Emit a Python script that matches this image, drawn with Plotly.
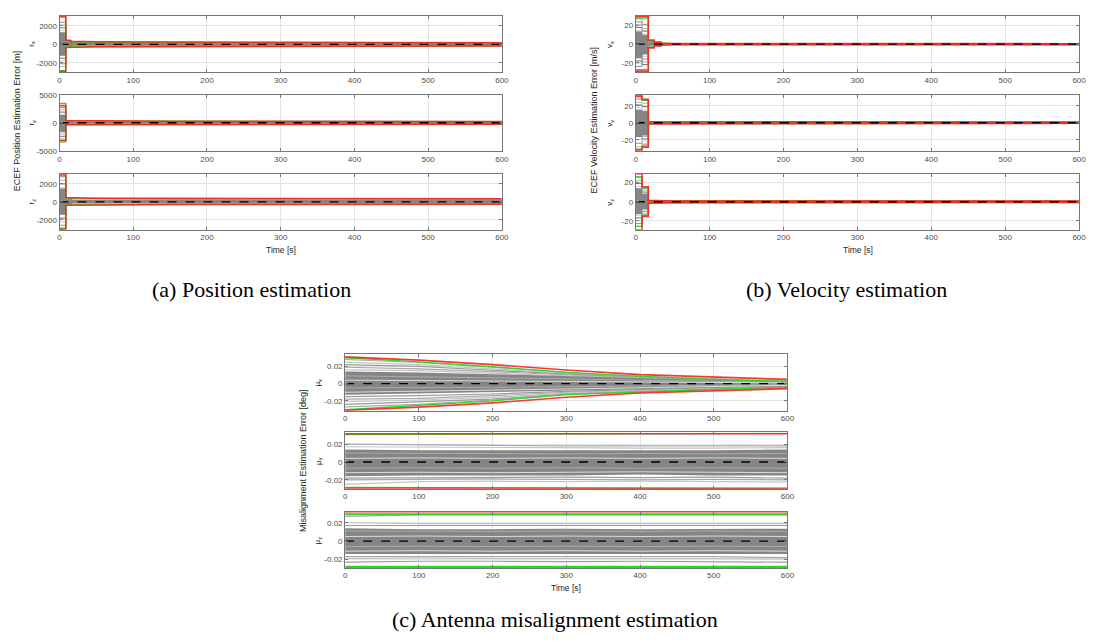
import plotly.graph_objects as go

W, H = 1093, 642

# ---------------- data ----------------
X_TICKS = [0, 100, 200, 300, 400, 500, 600]
T_ENDS = [0, 600]
MEAN_ERR = [0, 0]

# ---- (a) position ----
POS_BOUND_T = [0, 8.5, 8.5, 15, 15, 50, 150, 300, 450, 600]
RX_RED_UP = [3050, 3050, 450, 450, 330, 290, 260, 230, 200, 180]
RX_RED_LO = [-2950, -2950, -330, -330, -280, -260, -240, -220, -200, -180]
RX_GRN_UP = [2950, 2950, 350, 350, 280, 250, 220, 200, 180, 160]
RX_GRN_LO = [-2850, -2850, -280, -280, -240, -220, -200, -190, -180, -160]
RY_RED_UP = [3050, 3050, 400, 400, 330, 300, 280, 260, 240, 230]
RY_RED_LO = [-3100, -3100, -350, -350, -300, -280, -260, -250, -240, -230]
RY_GRN_UP = [3450, 3450, 330, 330, 280, 260, 240, 220, 210, 200]
RY_GRN_LO = [-3400, -3400, -300, -300, -260, -240, -220, -210, -200, -200]
RZ_RED_UP = [3000, 3000, 480, 480, 420, 400, 390, 380, 370, 360]
RZ_RED_LO = [-3050, -3050, -370, -370, -330, -310, -290, -280, -270, -260]
RZ_GRN_UP = [3150, 3150, 420, 420, 370, 350, 340, 330, 320, 310]
RZ_GRN_LO = [-2950, -2950, -320, -320, -290, -270, -250, -240, -230, -220]

POS_SEG_T = [0, 8.5, 17, 600]
RX_CORE_UP = [1300, 200, 120]
RX_CORE_LO = [-1200, -200, -110]
RY_CORE_UP = [1400, 180, 110]
RY_CORE_LO = [-1600, -180, -110]
RZ_CORE_UP = [1500, 250, 150]
RZ_CORE_LO = [-1400, -230, -120]
RX_RUN_A = [2400, 2100, 1800, 1500, 1250, 1000, 700, 450, 200, -100, -350, -600, -900, -1200, -1500, -1800, -2100, -2400]
RX_RUN_B = [380, 300, 220, 160, 100, 50, 0, -40, -90, -140, -190, -240, -290, -330, 260, -60, 120, -200]
RX_RUN_C = [150, -120, 90, -60, 110, -140, 40, -30, 70, -90, 20, -50, 130, -110, 60, -20, 100, -70]
RY_RUN_A = [2700, 2300, 1900, 1500, 1100, 800, 500, 200, -100, -400, -800, -1200, -1600, -2000, -2400, -2800, -3200, 1300]
RY_RUN_B = [300, 240, 180, 120, 60, 0, -60, -120, -180, -240, -300, 150, -90, 30, 210, -210, 90, -30]
RY_RUN_C = [140, -110, 80, -70, 120, -130, 30, -40, 60, -80, 10, -60, 100, -120, 50, -30, 90, -50]
RZ_RUN_A = [2800, 2400, 2000, 1600, 1300, 1000, 700, 400, 100, -200, -500, -800, -1100, -1400, -1800, -2200, -2600, -2900]
RZ_RUN_B = [420, 340, 260, 180, 100, 20, -60, -140, -220, -300, -360, 300, -100, 60, 220, -260, 140, -20]
RZ_RUN_C = [200, -150, 120, -90, 160, -180, 60, -40, 90, -110, 30, -70, 170, -130, 80, -20, 140, -60]

# ---- (b) velocity ----
VEL_BOUND_T = [0, 8.5, 8.5, 17, 17, 25, 25, 34, 34, 50, 600]
VX_RED_UP = [29.5, 29.5, 29.5, 29.5, 4.5, 4.5, 2.2, 2.2, 1.2, 0.7, 0.5]
VX_RED_LO = [-29, -29, -29, -29, -4, -4, -2, -2, -1.1, -0.7, -0.5]
VX_GRN_UP = [28, 28, 28, 28, 3.5, 3.5, 1.8, 1.8, 1.0, 0.6, 0.4]
VX_GRN_LO = [-27.5, -27.5, -27.5, -27.5, -3.5, -3.5, -1.8, -1.8, -1.0, -0.6, -0.4]
VY_RED_UP = [31, 31, 27.5, 27.5, 1.2, 1.2, 1.0, 1.0, 0.9, 0.8, 0.6]
VY_RED_LO = [-32, -32, -28.5, -28.5, -1.2, -1.2, -1.0, -1.0, -0.9, -0.8, -0.6]
VY_GRN_UP = [32.5, 32.5, 26.5, 26.5, 1.0, 1.0, 0.9, 0.9, 0.8, 0.7, 0.5]
VY_GRN_LO = [-31, -31, -27, -27, -1.0, -1.0, -0.9, -0.9, -0.8, -0.7, -0.5]
VZ_RED_UP = [29.4, 29.4, 15.7, 15.7, 1.5, 1.5, 1.2, 1.2, 1.0, 0.8, 0.6]
VZ_RED_LO = [-29.7, -29.7, -15.4, -15.4, -1.5, -1.5, -1.2, -1.2, -1.0, -0.8, -0.6]
VZ_GRN_UP = [26, 26, 14.5, 14.5, 1.2, 1.2, 1.0, 1.0, 0.9, 0.7, 0.5]
VZ_GRN_LO = [-26, -26, -14, -14, -1.2, -1.2, -1.0, -1.0, -0.9, -0.7, -0.5]

VX_SEG_T = [0, 8.5, 17, 25, 34, 600]
VX_CORE_UP = [14, 10, 1.5, 0.8, 0.2]
VX_CORE_LO = [-15, -11, -1.5, -0.8, -0.2]
VX_RUN_A = [24, 21, 18, 15, 12, 9, 6, 3, 0, -3, -6, -9, -12, -15, -18, -21, -24, 27]
VX_RUN_B = [21, 17, 14, 11, 8, 5, 2, -1, -4, -7, -10, -13, -16, -19, -22, 9, -3, 15]
VX_RUN_C = [3.8, 3.0, 2.2, 1.5, 0.8, 0.2, -0.4, -1.0, -1.6, -2.2, -2.8, -3.4, 1.2, -0.6, 2.6, -2.0, 0.5, -1.3]
VX_RUN_D = [1.8, 1.4, 1.0, 0.6, 0.3, 0.0, -0.3, -0.6, -0.9, -1.2, -1.5, -1.8, 0.5, -0.2, 1.2, -1.0, 0.2, -0.5]
VX_RUN_E = [0.4, 0.3, 0.2, 0.1, 0.05, 0.0, -0.05, -0.1, -0.2, -0.3, -0.35, -0.4, 0.15, -0.1, 0.3, -0.25, 0.05, -0.15]
VYZ_SEG_T = [0, 8.5, 17, 600]
VY_CORE_UP = [15, 14, 0.5]
VY_CORE_LO = [-16, -15, -0.5]
VZ_CORE_UP = [14, 8, 0.6]
VZ_CORE_LO = [-13, -8, -0.6]
VY_RUN_A = [28, 24, 21, 18, 15, 12, 9, 6, 3, 0, -3, -6, -9, -12, -16, -20, -24, -28]
VY_RUN_B = [27, 23, 19, 15, 11, 8, 5, 2, -1, -4, -7, -10, -13, -16, -19, -22, -25, 12]
VY_RUN_C = [0.9, 0.7, 0.5, 0.3, 0.1, -0.1, -0.3, -0.5, -0.7, -0.9, 0.4, -0.4, 0.6, -0.6, 0.2, -0.2, 0.8, -0.8]
VZ_RUN_A = [26, 22, 19, 16, 13, 10, 7, 4, 1, -2, -5, -8, -11, -14, -17, -20, -23, -26]
VZ_RUN_B = [14, 12, 10, 8, 6, 4, 2, 0, -2, -4, -6, -8, -10, -12, -14, 5, -3, 9]
VZ_RUN_C = [1.2, 0.9, 0.6, 0.3, 0.0, -0.3, -0.6, -0.9, -1.2, 0.5, -0.5, 0.8, -0.8, 0.2, -0.2, 1.0, -1.0, 0.4]

# ---- (c) misalignment ----
MIS_T = [0, 100, 200, 300, 400, 500, 600]
MUX_RED_UP = [0.031, 0.0272, 0.0220, 0.0158, 0.0105, 0.0074, 0.0049]
MUX_RED_LO = [-0.031, -0.0272, -0.0223, -0.0158, -0.0108, -0.0080, -0.0058]
MUX_GRN_UP = [0.030, 0.0253, 0.0196, 0.0130, 0.0085, 0.0050, 0.0025]
MUX_GRN_LO = [-0.0303, -0.0253, -0.0200, -0.0128, -0.0094, -0.0068, -0.0042]
MUX_CORE_UP = [0.014, 0.013, 0.011, 0.0085, 0.0065, 0.0042, 0.0025]
MUX_CORE_LO = [-0.013, -0.012, -0.010, -0.0085, -0.0065, -0.0048, -0.003]
MUX_RUNS = [
    [0.028, 0.0245, 0.019, 0.013, 0.0085, 0.0055, 0.003],
    [0.025, 0.022, 0.017, 0.012, 0.0078, 0.005, 0.0026],
    [0.022, 0.020, 0.0155, 0.011, 0.007, 0.0045, 0.0022],
    [0.019, 0.017, 0.014, 0.010, 0.0065, 0.004, 0.002],
    [0.016, 0.015, 0.012, 0.009, 0.006, 0.0035, 0.0018],
    [-0.015, -0.014, -0.012, -0.009, -0.007, -0.005, -0.0028],
    [-0.018, -0.017, -0.014, -0.010, -0.0078, -0.0055, -0.0032],
    [-0.021, -0.019, -0.016, -0.011, -0.0085, -0.006, -0.0036],
    [-0.024, -0.021, -0.018, -0.012, -0.009, -0.0065, -0.004],
    [-0.027, -0.024, -0.019, -0.0125, -0.0092, -0.0066, -0.0041],
]
MUX_STRIPES = [
    [0.009, 0.008, 0.007, 0.0055, 0.004, 0.0028, 0.0016],
    [0.004, 0.0038, 0.0032, 0.0026, 0.002, 0.0014, 0.0008],
    [-0.005, -0.0048, -0.0042, -0.0035, -0.0028, -0.002, -0.0012],
    [-0.010, -0.009, -0.0078, -0.0062, -0.0048, -0.0035, -0.002],
]
MUY_RED_UP = [0.0315, 0.0315]
MUY_RED_LO = [-0.0295, -0.0295]
MUY_GRN_UP = [0.0305, 0.0320]
MUY_GRN_LO = [-0.0285, -0.0300]
MUY_CORE_UP = [0.014, 0.013, 0.013, 0.013, 0.013, 0.013, 0.014]
MUY_CORE_LO = [-0.016, -0.015, -0.015, -0.015, -0.014, -0.015, -0.015]
MUY_RUNS = [
    [0.020, 0.019, 0.0185, 0.018, 0.018, 0.0175, 0.018],
    [0.017, 0.0165, 0.016, 0.016, 0.0155, 0.0155, 0.016],
    [-0.018, -0.0175, -0.017, -0.017, -0.0175, -0.017, -0.018],
    [-0.020, -0.0195, -0.019, -0.0195, -0.020, -0.0195, -0.020],
    [-0.025, -0.022, -0.0215, -0.022, -0.0215, -0.022, -0.0225],
]
MUY_STRIPES = [
    [0.010, 0.0095, 0.0095, 0.009, 0.0095, 0.009, 0.0095],
    [0.004, 0.0045, 0.004, 0.0045, 0.004, 0.0045, 0.004],
    [-0.007, -0.0065, -0.007, -0.0065, -0.007, -0.0065, -0.007],
    [-0.012, -0.0115, -0.012, -0.0115, -0.011, -0.0115, -0.012],
]
MUZ_RED_UP = [0.031, 0.031]
MUZ_RED_LO = [-0.029, -0.029]
MUZ_GRN_UP = [0.029, 0.029]
MUZ_GRN_LO = [-0.0277, -0.0277]
MUZ_CORE_UP = [0.014, 0.013, 0.013, 0.0135, 0.013, 0.013, 0.0135]
MUZ_CORE_LO = [-0.014, -0.0135, -0.0135, -0.014, -0.0135, -0.014, -0.014]
MUZ_RUNS = [
    [0.027, 0.0285, 0.0285, 0.0285, 0.0285, 0.0285, 0.0285],
    [0.020, 0.019, 0.019, 0.019, 0.019, 0.0185, 0.019],
    [0.017, 0.017, 0.0165, 0.0165, 0.017, 0.0165, 0.017],
    [-0.017, -0.017, -0.0175, -0.017, -0.0175, -0.017, -0.018],
    [-0.019, -0.0185, -0.019, -0.019, -0.0185, -0.019, -0.0195],
    [-0.023, -0.022, -0.022, -0.0225, -0.022, -0.0225, -0.023],
]
MUZ_STRIPES = [
    [0.011, 0.0105, 0.0105, 0.011, 0.0105, 0.011, 0.0105],
    [0.005, 0.0055, 0.005, 0.0055, 0.005, 0.0055, 0.005],
    [-0.006, -0.0055, -0.006, -0.0055, -0.006, -0.0055, -0.006],
    [-0.011, -0.0105, -0.011, -0.0105, -0.011, -0.0105, -0.011],
]

# ---------------- styles ----------------
FONT = "Liberation Sans, Arial, sans-serif"
SERIF = "Liberation Serif, Times New Roman, serif"
TICK_COLOR = "#4d4d4d"
GRAYS = ["#8c8c8c", "#b4b4b4", "#6f6f6f", "#cfcfcf"]
RED = "rgba(255,30,30,0.9)"
GREEN = "#22dd22"
CORE = "#858585"

fig = go.Figure()

AX_A = (58, 504)
AX_B = (639, 1086)
AX_C = (346, 792)
ROWS_AB = [(12, 69), (92, 149), (172, 229)]
ROWS_C = [(354.5, 412.5), (434.5, 491.7), (515.7, 571.7)]

layout_axes = {}
idx_counter = [0]


def make_axes(xpx, ypx, yrange, yticks):
    idx_counter[0] += 1
    i = idx_counter[0]
    sfx = "" if i == 1 else str(i)
    common = dict(showgrid=True, gridcolor="#e4e4e4", gridwidth=1, zeroline=False,
                  showline=True, linecolor="#767676", linewidth=1, mirror="ticks",
                  ticks="inside", ticklen=3, tickcolor="#767676",
                  tickfont=dict(family=FONT, size=8, color=TICK_COLOR))
    layout_axes["xaxis" + sfx] = dict(common, domain=[xpx[0] / W, xpx[1] / W], range=[0, 600],
                                      tickvals=X_TICKS, ticktext=[str(v) for v in X_TICKS],
                                      anchor="y" + sfx)
    layout_axes["yaxis" + sfx] = dict(common, domain=[1 - ypx[1] / H, 1 - ypx[0] / H], range=yrange,
                                      tickvals=yticks, ticktext=[f"{v:g}" for v in yticks],
                                      anchor="x" + sfx)
    return "x" + sfx, "y" + sfx


def line(ax, x, y, color, width, dash=None, shape="linear"):
    fig.add_trace(go.Scatter(x=x, y=y, mode="lines", xaxis=ax[0], yaxis=ax[1],
                             line=dict(color=color, width=width, dash=dash, shape=shape),
                             hoverinfo="skip", showlegend=False))


def fill_poly(ax, x, y, color):
    fig.add_trace(go.Scatter(x=x, y=y, mode="lines", fill="toself", fillcolor=color,
                             line=dict(width=0), xaxis=ax[0], yaxis=ax[1],
                             hoverinfo="skip", showlegend=False))


def step_xy(seg_t, vals):
    xs, ys = [], []
    for k, v in enumerate(vals):
        xs += [seg_t[k], seg_t[k + 1]]
        ys += [v, v]
    return xs, ys


def step_runs(ax, seg_t, cols, core_up, core_lo):
    n = len(cols[0])
    for k in range(n):
        vals = [c[k] for c in cols]
        line(ax, seg_t, vals + [vals[-1]], GRAYS[k % len(GRAYS)], 1, shape="hv")
    xu, yu = step_xy(seg_t, core_up)
    xl, yl = step_xy(seg_t, core_lo)
    fill_poly(ax, xu + xl[::-1], yu + yl[::-1], CORE)


def bounds(ax, t, r_up, r_lo, g_up, g_lo):
    line(ax, t, g_up, GREEN, 1.3)
    line(ax, t, g_lo, GREEN, 1.3)
    line(ax, t, r_up, RED, 1.6)
    line(ax, t, r_lo, RED, 1.6)


def mean_line(ax):
    line(ax, T_ENDS, MEAN_ERR, "black", 1.4, dash="dash")


def core_runs(ax, core_up, core_lo, runs, stripes):
    for k, r in enumerate(runs):
        line(ax, MIS_T, r, ["#a8a8a8", "#c4c4c4", "#9a9a9a"][k % 3], 1.2)
    fill_poly(ax, MIS_T + MIS_T[::-1], core_up + core_lo[::-1], CORE)
    for k, r in enumerate(stripes):
        line(ax, MIS_T, r, ["#b5b5b5", "#f2f2f2"][k % 2], 0.8)


# ---- (a) ----
ax = make_axes(AX_A, ROWS_AB[0], [-3000, 3100], [-2000, 0, 2000])
step_runs(ax, POS_SEG_T, [RX_RUN_A, RX_RUN_B, RX_RUN_C], RX_CORE_UP, RX_CORE_LO)
bounds(ax, POS_BOUND_T, RX_RED_UP, RX_RED_LO, RX_GRN_UP, RX_GRN_LO)
mean_line(ax)
ax = make_axes(AX_A, ROWS_AB[1], [-5000, 5000], [-5000, 0, 5000])
step_runs(ax, POS_SEG_T, [RY_RUN_A, RY_RUN_B, RY_RUN_C], RY_CORE_UP, RY_CORE_LO)
bounds(ax, POS_BOUND_T, RY_RED_UP, RY_RED_LO, RY_GRN_UP, RY_GRN_LO)
mean_line(ax)
ax = make_axes(AX_A, ROWS_AB[2], [-3100, 3150], [-2000, 0, 2000])
step_runs(ax, POS_SEG_T, [RZ_RUN_A, RZ_RUN_B, RZ_RUN_C], RZ_CORE_UP, RZ_CORE_LO)
bounds(ax, POS_BOUND_T, RZ_RED_UP, RZ_RED_LO, RZ_GRN_UP, RZ_GRN_LO)
mean_line(ax)

# ---- (b) ----
ax = make_axes(AX_B, ROWS_AB[0], [-30, 30.5], [-20, 0, 20])
step_runs(ax, VX_SEG_T, [VX_RUN_A, VX_RUN_B, VX_RUN_C, VX_RUN_D, VX_RUN_E], VX_CORE_UP, VX_CORE_LO)
bounds(ax, VEL_BOUND_T, VX_RED_UP, VX_RED_LO, VX_GRN_UP, VX_GRN_LO)
mean_line(ax)
ax = make_axes(AX_B, ROWS_AB[1], [-33, 33], [-20, 0, 20])
step_runs(ax, VYZ_SEG_T, [VY_RUN_A, VY_RUN_B, VY_RUN_C], VY_CORE_UP, VY_CORE_LO)
bounds(ax, VEL_BOUND_T, VY_RED_UP, VY_RED_LO, VY_GRN_UP, VY_GRN_LO)
mean_line(ax)
ax = make_axes(AX_B, ROWS_AB[2], [-29.5, 29.5], [-20, 0, 20])
step_runs(ax, VYZ_SEG_T, [VZ_RUN_A, VZ_RUN_B, VZ_RUN_C], VZ_CORE_UP, VZ_CORE_LO)
bounds(ax, VEL_BOUND_T, VZ_RED_UP, VZ_RED_LO, VZ_GRN_UP, VZ_GRN_LO)
mean_line(ax)

# ---- (c) ----
ax = make_axes(AX_C, ROWS_C[0], [-0.0314, 0.0349], [-0.02, 0, 0.02])
core_runs(ax, MUX_CORE_UP, MUX_CORE_LO, MUX_RUNS, MUX_STRIPES)
bounds(ax, MIS_T, MUX_RED_UP, MUX_RED_LO, MUX_GRN_UP, MUX_GRN_LO)
mean_line(ax)
ax = make_axes(AX_C, ROWS_C[1], [-0.0300, 0.0330], [-0.02, 0, 0.02])
core_runs(ax, MUY_CORE_UP, MUY_CORE_LO, MUY_RUNS, MUY_STRIPES)
bounds(ax, T_ENDS, MUY_RED_UP, MUY_RED_LO, MUY_GRN_UP, MUY_GRN_LO)
mean_line(ax)
ax = make_axes(AX_C, ROWS_C[2], [-0.0290, 0.0312], [-0.02, 0, 0.02])
core_runs(ax, MUZ_CORE_UP, MUZ_CORE_LO, MUZ_RUNS, MUZ_STRIPES)
bounds(ax, T_ENDS, MUZ_RED_UP, MUZ_RED_LO, MUZ_GRN_UP, MUZ_GRN_LO)
mean_line(ax)

# ---------------- annotations ----------------
ann = []


def text(x, y, s, size=8, angle=0, family=FONT, color="#262626"):
    ann.append(dict(x=x / W, y=1 - y / H, xref="paper", yref="paper", text=s, showarrow=False,
                    textangle=angle, xanchor="center", yanchor="middle",
                    font=dict(family=family, size=size, color=color)))


for rows, xs, names in [(ROWS_AB, 30, ["r<sub>x</sub>", "r<sub>y</sub>", "r<sub>z</sub>"]),
                        (ROWS_AB, 613, ["v<sub>x</sub>", "v<sub>y</sub>", "v<sub>z</sub>"]),
                        (ROWS_C, 319, ["μ<sub>x</sub>", "μ<sub>y</sub>", "μ<sub>z</sub>"])]:
    for (yt, yb), nm in zip(rows, names):
        text(xs, (yt + yb) / 2, nm, size=8, angle=-90)

text(15, 118, "ECEF Position Estimation Error [m]", size=9, angle=-90)
text(597, 118, "ECEF Velocity Estimation Error [m/s]", size=9, angle=-90)
text(303, 463, "Misalignment Estimation Error [deg]", size=9, angle=-90)
text(281, 249, "Time [s]", size=8.5)
text(863, 249, "Time [s]", size=8.5)
text(569, 592, "Time [s]", size=8.5)

text(252, 290, "(a) Position estimation", size=22, family=SERIF, color="black")
text(852, 290, "(b) Velocity estimation", size=22, family=SERIF, color="black")
text(558, 624, "(c) Antenna misalignment estimation", size=22, family=SERIF, color="black")

fig.update_layout(width=W, height=H, margin=dict(l=0, r=0, t=0, b=0),
                  paper_bgcolor="white", plot_bgcolor="white", showlegend=False,
                  annotations=ann, **layout_axes)

fig.write_html("out.html")
